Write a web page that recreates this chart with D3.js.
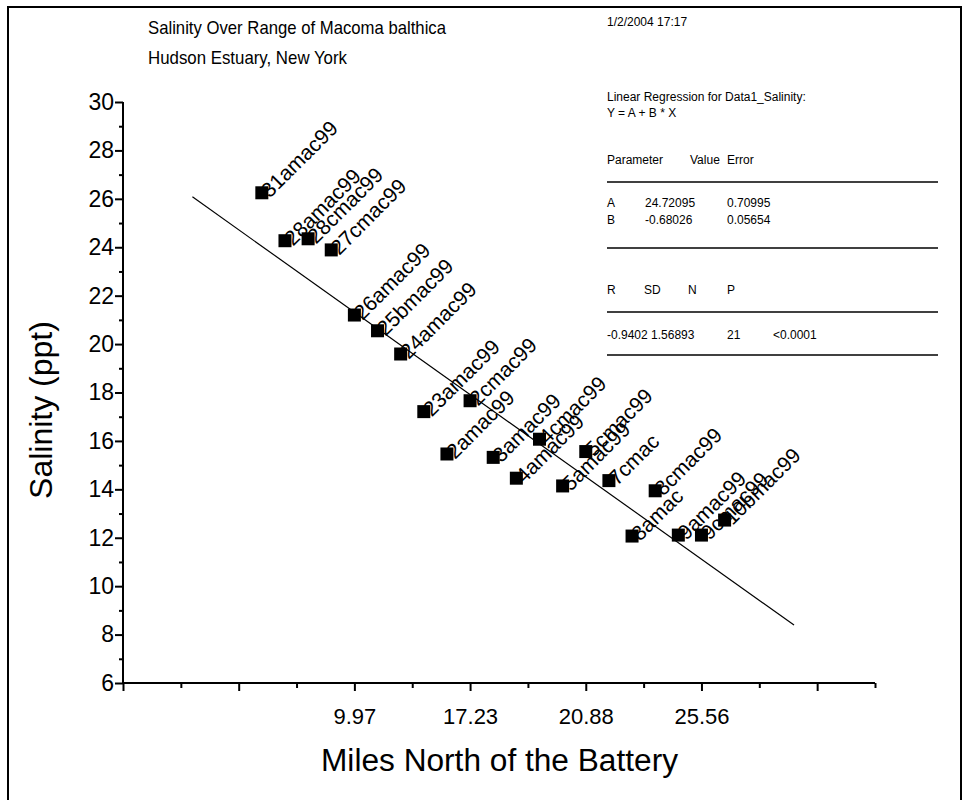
<!DOCTYPE html>
<html><head><meta charset="utf-8">
<script src="https://cdn.jsdelivr.net/npm/d3@7"></script>
<style>body{margin:0;background:#fff;} svg{display:block;font-family:"Liberation Sans",Arial,sans-serif;}</style>
</head><body>
<script>
// ---- data ----
const sampleIndex = [1,2,3,4,5,6,7,8,9,10,11,12,13,14,15,16,17,18,19,20,21];
const sampleNames = ["31amac99","28amac99","28cmac99","27cmac99","26amac99","25bmac99","24amac99","23amac99","2amac99","2cmac99","3amac99","4amac99","4cmac99","5amac99","5cmac99","7cmac","8amac","8cmac99","9amac99","9cmac99","10bmac99"];
const salinity = [26.25,24.27,24.35,23.89,21.2,20.55,19.59,17.21,15.46,17.66,15.32,14.46,16.07,14.14,15.56,14.36,12.07,13.94,12.11,12.11,12.73];
const xTickValues = [5,10,15,20];
const xTickLabels = ["9.97","17.23","20.88","25.56"];
const yTicks = [6,8,10,12,14,16,18,20,22,24,26,28,30];
const regA = 24.72095, regB = -0.68026;
const regXRange = [-2,24];
const statsRows = [
  ["Parameter","Value","Error"],
  ["A","24.72095","0.70995"],
  ["B","-0.68026","0.05654"],
  ["R","SD","N","P"],
  ["-0.9402","1.56893","21","<0.0001"]
];

const W=963,H=800;
const svg=d3.select("body").append("svg").attr("width",W).attr("height",H);
// frame
svg.append("path").attr("d","M8,800 V7 H961 V800").attr("fill","none").attr("stroke","#000").attr("stroke-width",2);

const x=d3.scaleLinear().domain([-5,27.5]).range([123,875]);
const y=d3.scaleLinear().domain([6,30]).range([683,102]);

// axes
const xMajor=d3.axisBottom(x).tickValues(d3.range(-5,27.5,5)).tickSize(8).tickFormat(d=>{const i=xTickValues.indexOf(d);return i>=0?xTickLabels[i]:"";});
const gx=svg.append("g").attr("transform","translate(0,683)").call(xMajor);
const xMinor=d3.axisBottom(x).tickValues(d3.range(-2.5,28,5)).tickSize(5).tickFormat("");
svg.append("g").attr("transform","translate(0,683)").call(xMinor).select(".domain").remove();
gx.select(".domain").attr("d","M123,0H875").attr("stroke-width",2);
gx.selectAll("text").attr("font-size",22).attr("dy","1.35em").attr("fill","#000");

const yMajor=d3.axisLeft(y).tickValues(yTicks).tickSize(8).tickFormat(d3.format("d"));
const gy=svg.append("g").attr("transform","translate(123,0)").call(yMajor);
const yMinor=d3.axisLeft(y).tickValues(d3.range(7,30,2)).tickSize(4).tickFormat("");
svg.append("g").attr("transform","translate(123,0)").call(yMinor).select(".domain").remove();
gy.select(".domain").attr("d","M0,102V683").attr("stroke-width",2);
gy.selectAll("text").attr("font-size",23).attr("fill","#000").attr("x",-9);
svg.selectAll(".tick line").attr("stroke","#000").attr("stroke-width",2);

// regression line
svg.append("line")
  .attr("x1",x(regXRange[0])).attr("y1",y(regA+regB*regXRange[0]))
  .attr("x2",x(regXRange[1])).attr("y2",y(regA+regB*regXRange[1]))
  .attr("stroke","#000").attr("stroke-width",1.2);

// points
const pts=sampleIndex.map((v,i)=>({x:v,y:salinity[i],n:sampleNames[i]}));
const ms=13;
svg.append("g").selectAll("rect").data(pts).join("rect")
  .attr("x",d=>x(d.x)-ms/2).attr("y",d=>y(d.y)-ms/2).attr("width",ms).attr("height",ms).attr("fill","#000");
svg.append("g").selectAll("text").data(pts).join("text")
  .attr("transform",d=>`translate(${x(d.x)+8},${y(d.y)+6}) rotate(-45)`)
  .attr("font-size",21).attr("fill","#000").text(d=>d.n);

// titles
svg.append("text").attr("x",148).attr("y",34).attr("font-size",19).attr("textLength",298).attr("lengthAdjust","spacingAndGlyphs").text("Salinity Over Range of Macoma balthica");
svg.append("text").attr("x",148).attr("y",64).attr("font-size",19).attr("textLength",199).attr("lengthAdjust","spacingAndGlyphs").text("Hudson Estuary, New York");
svg.append("text").attr("x",321).attr("y",771).attr("font-size",31).attr("textLength",357).attr("lengthAdjust","spacingAndGlyphs").text("Miles North of the Battery");
svg.append("text").attr("transform","translate(52,410) rotate(-90)").attr("font-size",32).attr("text-anchor","middle").text("Salinity (ppt)");

// stats box
const sx=607;
const st=svg.append("g").attr("font-size",12);
st.append("text").attr("x",sx).attr("y",26).text("1/2/2004 17:17");
st.append("text").attr("x",sx).attr("y",101).text("Linear Regression for Data1_Salinity:");
st.append("text").attr("x",sx).attr("y",117).text("Y = A + B * X");
const colA=[sx,sx+83,sx+120], colB=[sx,sx+37,sx+81,sx+120];
statsRows[0].forEach((t,i)=>st.append("text").attr("x",colA[i]).attr("y",164).text(t));
statsRows[1].forEach((t,i)=>st.append("text").attr("x",[sx,sx+38,sx+120][i]).attr("y",207).text(t));
statsRows[2].forEach((t,i)=>st.append("text").attr("x",[sx,sx+38,sx+120][i]).attr("y",224).text(t));
statsRows[3].forEach((t,i)=>st.append("text").attr("x",colB[i]).attr("y",294).text(t));
[["-0.9402 1.56893",sx],["21",sx+120],["<0.0001",sx+166]].forEach(([t,xx])=>st.append("text").attr("x",xx).attr("y",339).text(t));
[182,248,312,355].forEach(yy=>st.append("line").attr("x1",sx).attr("x2",938).attr("y1",yy).attr("y2",yy).attr("stroke","#000").attr("stroke-width",1.3));
</script>
</body></html>
